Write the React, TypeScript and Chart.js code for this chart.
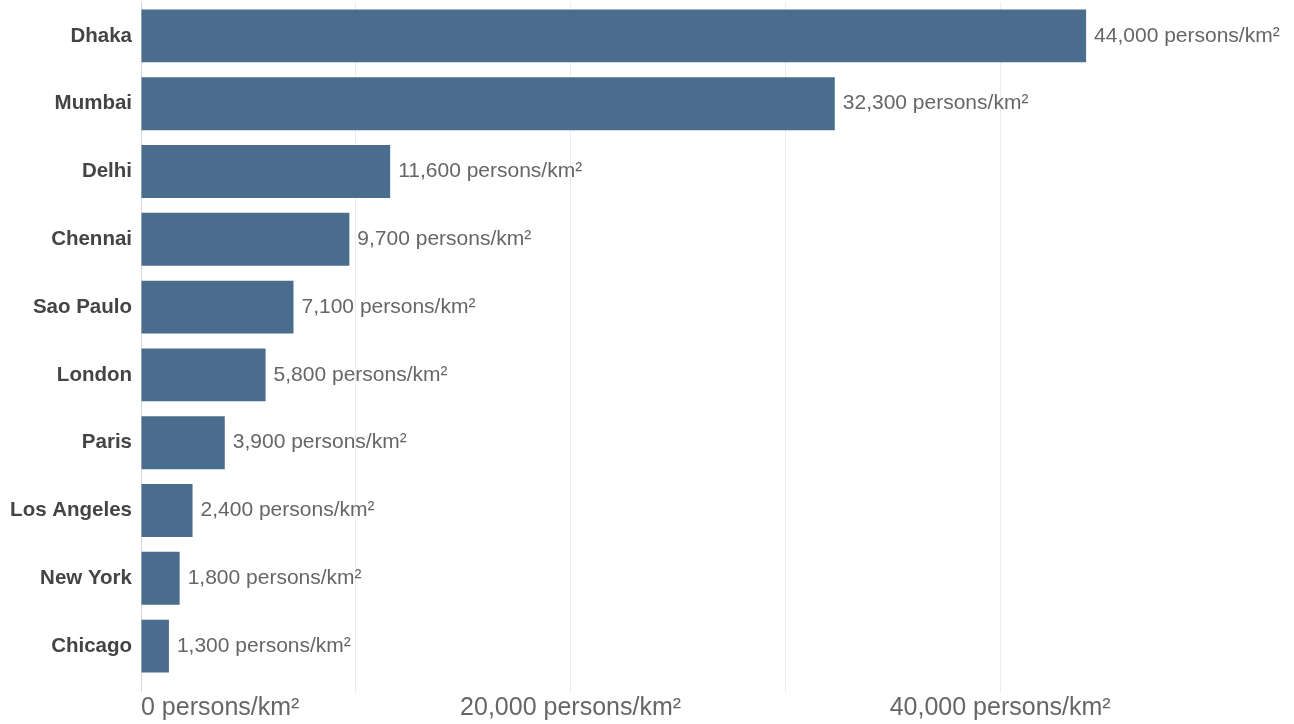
import React, { useEffect, useRef } from "react";
import { Chart, registerables } from "chart.js";

Chart.register(...registerables);

const cities: string[] = [
  "Dhaka",
  "Mumbai",
  "Delhi",
  "Chennai",
  "Sao Paulo",
  "London",
  "Paris",
  "Los Angeles",
  "New York",
  "Chicago",
];

const density: number[] = [44000, 32300, 11600, 9700, 7100, 5800, 3900, 2400, 1800, 1300];

const gridTicks: number[] = [0, 10000, 20000, 30000, 40000];
const labeledTicks: number[] = [0, 20000, 40000];
const axisMax = 48000;
const unit = "persons/km²";

const FONT = "'Liberation Sans', Arial, Helvetica, sans-serif";
const BAR_COLOR = "#4a6d8d";

const fmt = (v: number) => `${v.toLocaleString("en-US")} ${unit}`;

const valueLabelPlugin = {
  id: "valueLabels",
  afterDatasetsDraw(chart: any) {
    const ctx = chart.ctx;
    const meta = chart.getDatasetMeta(0);
    ctx.save();
    ctx.font = `21px ${FONT}`;
    ctx.fillStyle = "#666666";
    ctx.textAlign = "left";
    ctx.textBaseline = "middle";
    meta.data.forEach((bar: any, i: number) => {
      const v = chart.data.datasets[0].data[i] as number;
      ctx.fillText(fmt(v), bar.x + 8, bar.y);
    });
    ctx.restore();
  },
};

export default function App() {
  const canvasRef = useRef<HTMLCanvasElement | null>(null);

  useEffect(() => {
    if (!canvasRef.current) return;
    const chart = new Chart(canvasRef.current, {
      type: "bar",
      data: {
        labels: cities,
        datasets: [
          {
            data: density,
            backgroundColor: BAR_COLOR,
            borderWidth: 0,
            categoryPercentage: 1,
            barPercentage: 0.78,
          },
        ],
      },
      options: {
        indexAxis: "y",
        responsive: false,
        animation: false,
        layout: { padding: { top: 2, right: 122, left: 0, bottom: 0 } },
        plugins: {
          legend: { display: false },
          tooltip: { enabled: false },
        },
        scales: {
          x: {
            type: "linear",
            min: 0,
            max: axisMax,
            afterBuildTicks: (scale: any) => {
              scale.ticks = [...gridTicks, axisMax].map((v) => ({ value: v }));
            },
            afterFit: (scale: any) => {
              scale.paddingLeft = 0;
              scale.paddingRight = 0;
            },
            grid: {
              color: (ctx: any) =>
                ctx.tick && ctx.tick.value > 40000
                  ? "rgba(0,0,0,0)"
                  : ctx.tick && ctx.tick.value === 0
                  ? "#d6d6d6"
                  : "#ececec",
              lineWidth: 1,
              drawTicks: true,
              tickLength: 12,
            },
            border: { display: false },
            ticks: {
              autoSkip: false,
              maxRotation: 0,
              align: "inner",
              padding: 1,
              color: "#666666",
              font: { family: FONT, size: 25 },
              callback: (value: any) =>
                labeledTicks.includes(Number(value)) ? fmt(Number(value)) : "",
            },
          },
          y: {
            grid: { display: false, drawTicks: false },
            border: { display: false },
            afterFit: (scale: any) => {
              scale.width = 141;
              scale.paddingTop = 0;
              scale.paddingBottom = 0;
            },
            ticks: {
              padding: 9,
              color: "#444444",
              font: { family: FONT, size: 20.5, weight: "bold" },
            },
          },
        },
      },
      plugins: [valueLabelPlugin],
    });
    return () => chart.destroy();
  }, []);

  return (
    <div style={{ position: "fixed", left: 0, top: 0, width: 1294, height: 724, background: "#ffffff" }}>
      <canvas ref={canvasRef} width={1294} height={724} style={{ display: "block" }} />
    </div>
  );
}
